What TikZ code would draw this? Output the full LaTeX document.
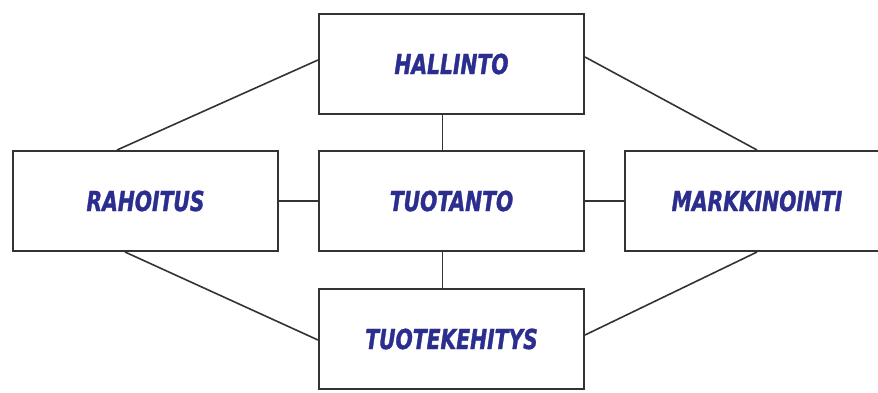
\documentclass[tikz,border=0pt]{standalone}
\usepackage{fontspec}
\newfontfamily\labfont[FakeStretch=0.82,FakeBold=1.2]{DejaVu Sans Condensed Bold Oblique}
\definecolor{txtblue}{HTML}{2B2E8F}
\definecolor{boxline}{HTML}{333333}
\begin{document}
\begin{tikzpicture}[x=1pt,y=-1pt,
  unit/.style={draw=boxline,line width=2pt,fill=white,minimum width=265pt,minimum height=100pt,inner sep=0pt,
    font=\labfont\fontsize{27.5}{30}\selectfont,text=txtblue,anchor=north west},
  link/.style={draw=boxline,line width=1.6pt}]
\useasboundingbox (0,0) rectangle (878,392);
\node[unit] (hal) at (318,13) {HALLINTO};
\node[unit] (rah) at (12,150) {RAHOITUS};
\node[unit] (tuo) at (318,150) {TUOTANTO};
\node[unit,minimum width=254pt] (mar) at (624,150) {MARKKINOINTI\hspace*{-10pt}};
\node[unit] (teh) at (318,288) {TUOTEKEHITYS};
\draw[link] ([yshift=-47pt]hal.north west) -- ([xshift=105pt]rah.north west);
\draw[link] ([yshift=-44pt]hal.north east) -- ([xshift=133pt]mar.north west);
\draw[link] ([xshift=113pt]rah.south west) -- ([yshift=-52pt]teh.north west);
\draw[link] ([yshift=-47pt]teh.north east) -- ([xshift=133pt]mar.south west);
\draw[link] ([xshift=-9pt]hal.south) -- ([xshift=-9pt]tuo.north);
\draw[link] ([xshift=-9pt]tuo.south) -- ([xshift=-9pt]teh.north);
\draw[link] (rah.east) -- (tuo.west);
\draw[link] (tuo.east) -- (mar.west);
\end{tikzpicture}
\end{document}
